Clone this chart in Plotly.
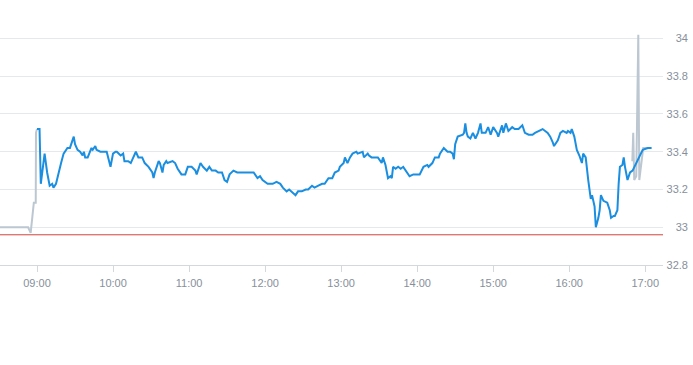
import pandas as pd
import plotly.graph_objects as go

BASE = pd.Timestamp("2024-03-15 09:00")

# Regular session (minutes after 09:00, price)
session_min = [0, 2, 3, 6, 8, 9, 10, 12, 13, 15, 17, 19, 21, 23, 24, 26, 28, 29, 30, 32,
               34, 36, 37, 38, 40, 43, 44, 46, 47, 50, 52, 55, 58, 60, 62, 63, 66, 68, 69, 72,
               74, 76, 78, 80, 83, 85, 88, 91, 92, 93, 96, 97, 99, 100, 102, 103, 107, 109, 111, 114,
               117, 119, 122, 125, 126, 129, 131, 134, 136, 138, 141, 143, 146, 148, 150, 152, 155, 158, 160, 163,
               166, 168, 171, 174, 176, 178, 182, 184, 186, 189, 192, 194, 197, 199, 201, 204, 206, 209, 212, 214,
               217, 219, 222, 225, 227, 230, 233, 235, 238, 239, 242, 243, 245, 247, 249, 252, 253, 257, 258, 261,
               262, 264, 267, 269, 272, 273, 275, 276, 277, 279, 280, 281, 283, 285, 287, 289, 292, 294, 297, 300,
               302, 305, 308, 309, 312, 314, 317, 318, 321, 324, 326, 328, 329, 330, 332, 336, 337, 338, 339, 340,
               342, 344, 346, 348, 350, 351, 354, 356, 358, 360, 363, 364, 366, 367, 368, 370, 372, 375, 377, 380,
               383, 385, 388, 391, 393, 396, 397, 399, 403, 405, 407, 408, 411, 413, 415, 418, 419, 421, 422, 424,
               426, 428, 430, 431, 433, 434, 435, 437, 438, 440, 441, 443, 444, 445, 447, 450, 452, 453, 455, 456,
               458, 459, 460, 462, 463, 464, 466, 468, 470, 478, 482, 485]
session_px = [33.52, 33.52, 33.23, 33.39, 33.29, 33.25, 33.22, 33.23, 33.21, 33.23, 33.29, 33.34, 33.39, 33.41, 33.42, 33.42, 33.47, 33.48, 33.44, 33.41,
              33.40, 33.38, 33.40, 33.37, 33.37, 33.42, 33.41, 33.43, 33.41, 33.40, 33.40, 33.40, 33.32, 33.39, 33.40, 33.40, 33.38, 33.39, 33.35, 33.35,
              33.34, 33.37, 33.40, 33.37, 33.37, 33.34, 33.32, 33.29, 33.26, 33.29, 33.35, 33.34, 33.29, 33.33, 33.35, 33.34, 33.35, 33.34, 33.31, 33.28,
              33.28, 33.32, 33.32, 33.30, 33.28, 33.34, 33.32, 33.30, 33.32, 33.30, 33.30, 33.29, 33.29, 33.25, 33.24, 33.28, 33.30, 33.29, 33.29, 33.29,
              33.29, 33.29, 33.29, 33.26, 33.27, 33.25, 33.23, 33.23, 33.23, 33.24, 33.23, 33.21, 33.19, 33.20, 33.19, 33.17, 33.19, 33.19, 33.20, 33.20,
              33.22, 33.21, 33.22, 33.23, 33.23, 33.26, 33.26, 33.29, 33.30, 33.32, 33.34, 33.37, 33.34, 33.37, 33.39, 33.40, 33.39, 33.40, 33.37, 33.39,
              33.38, 33.37, 33.37, 33.37, 33.34, 33.37, 33.33, 33.29, 33.26, 33.27, 33.26, 33.32, 33.31, 33.32, 33.31, 33.32, 33.29, 33.27, 33.28, 33.28,
              33.28, 33.32, 33.33, 33.32, 33.34, 33.37, 33.37, 33.39, 33.42, 33.40, 33.40, 33.39, 33.36, 33.44, 33.48, 33.49, 33.50, 33.55, 33.50, 33.48,
              33.47, 33.50, 33.47, 33.50, 33.55, 33.50, 33.50, 33.53, 33.49, 33.53, 33.50, 33.48, 33.53, 33.54, 33.50, 33.55, 33.51, 33.53, 33.52, 33.52,
              33.54, 33.50, 33.49, 33.49, 33.50, 33.51, 33.51, 33.52, 33.50, 33.48, 33.45, 33.43, 33.46, 33.50, 33.51, 33.50, 33.51, 33.50, 33.52, 33.48,
              33.41, 33.38, 33.34, 33.39, 33.37, 33.29, 33.25, 33.15, 33.17, 33.11, 33.00, 33.05, 33.09, 33.17, 33.14, 33.13, 33.09, 33.05, 33.06, 33.06,
              33.09, 33.23, 33.32, 33.33, 33.37, 33.32, 33.25, 33.29, 33.30, 33.41, 33.42, 33.42]

# Extended hours (pre-market and after-hours), minutes after 09:00
pre_min = [-31, -20, -10, -7, -5, -3.5, -2.5, -1, -0.8, 0]
pre_px = [33.00, 33.00, 33.00, 33.00, 32.97, 33.07, 33.13, 33.13, 33.50, 33.52]
post_min = [469.8, 470.5, 471.3, 472.9, 474.5, 475.3, 478.4, 482]
post_px = [33.35, 33.50, 33.25, 33.27, 34.02, 33.25, 33.42, 33.42]

prev_close = 32.96
y_ticks = [32.8, 33.0, 33.2, 33.4, 33.6, 33.8, 34.0]
y_tick_text = ["32.8", "33", "33.2", "33.4", "33.6", "33.8", "34"]


def to_time(mins):
    return BASE + pd.to_timedelta(mins, unit="m")


x_start = to_time(-29.2)
x_end = to_time(494)
Y_RANGE = [32.8, 34.05]
# label axis: same scale, domain extended 10px below so the bottom label is kept
PLOT_H = 236
EXTRA = 10
Y2_RANGE = [Y_RANGE[0] - EXTRA * (Y_RANGE[1] - Y_RANGE[0]) / PLOT_H, Y_RANGE[1]]

fig = go.Figure()
fig.add_trace(go.Scatter(x=to_time(pre_min), y=pre_px, mode="lines",
                         line=dict(color="#bcc7d1", width=2), hoverinfo="skip"))
fig.add_trace(go.Scatter(x=to_time(post_min), y=post_px, mode="lines",
                         line=dict(color="#bcc7d1", width=2), hoverinfo="skip"))
fig.add_trace(go.Scatter(x=[x_start, x_end], y=[prev_close, prev_close], mode="lines",
                         line=dict(color="#d0433b", width=1), hoverinfo="skip"))
fig.add_trace(go.Scatter(x=to_time(session_min), y=session_px, mode="lines",
                         line=dict(color="#1a8ee0", width=2)))
# invisible trace carrying the right-aligned price labels axis
fig.add_trace(go.Scatter(x=[0], y=[33.0], xaxis="x2", yaxis="y2", mode="markers",
                         marker=dict(opacity=0), hoverinfo="skip"))

font_tick = dict(family="Liberation Sans, Arial, sans-serif", size=11, color="#86909b")

fig.update_layout(
    width=693, height=365,
    margin=dict(l=0, r=0, t=29, b=100 - EXTRA),
    paper_bgcolor="white", plot_bgcolor="rgba(0,0,0,0)",
    showlegend=False,
    xaxis=dict(
        type="date", domain=[0, 663 / 693], range=[x_start, x_end],
        tickformat="%H:%M", dtick=3600000, tick0=BASE,
        showgrid=False, zeroline=False,
        showline=True, linecolor="#d3d8dd", linewidth=1,
        ticks="outside", ticklen=6, tickcolor="#d3d8dd",
        ticklabelstandoff=2,
        tickfont=font_tick, anchor="y",
    ),
    xaxis2=dict(domain=[0, 691 / 693], range=[0, 1], visible=False, anchor="y2"),
    yaxis=dict(
        domain=[EXTRA / (PLOT_H + EXTRA), 1],
        range=Y_RANGE, tickvals=y_ticks, showticklabels=False,
        gridcolor="#e6e9ec", gridwidth=1, zeroline=False, showline=False,
        side="right", anchor="x",
    ),
    yaxis2=dict(
        domain=[0, 1],
        range=Y2_RANGE, tickvals=y_ticks, ticktext=y_tick_text,
        anchor="x2", side="right",
        ticklabelposition="inside", showgrid=False, zeroline=False, showline=False,
        ticks="", tickfont=font_tick,
    ),
)

fig.write_html("out.html", config={"displayModeBar": False},
               post_script="document.body.style.margin='0';")
